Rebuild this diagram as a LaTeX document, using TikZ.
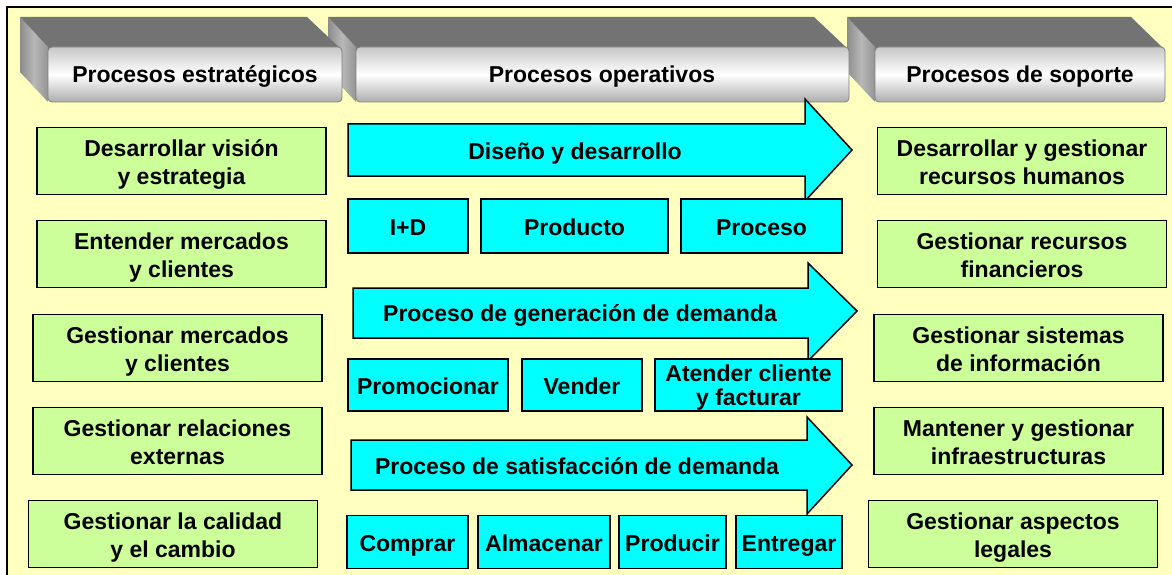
\documentclass[tikz,border=0pt]{standalone}
\usepackage{fontspec}
\setmainfont{Liberation Sans}
\definecolor{bgyellow}{HTML}{FFFFC0}
\definecolor{boxgreen}{HTML}{CCFF99}
\definecolor{opcyan}{HTML}{00FFFF}
\definecolor{bartop}{HTML}{737373}

\begin{document}
\begin{tikzpicture}[x=1pt, y=-1pt,
    txt/.style={font=\fontsize{23}{28}\selectfont\bfseries, align=center, inner sep=0pt,
        execute at begin node={\rule{0pt}{26pt}}, execute at end node={\rule[-8pt]{0pt}{8pt}}},
    greenbox/.style={txt, draw, line width=1.5pt, fill=boxgreen, minimum width=289pt, minimum height=67pt,
        text height=54pt, text depth=8pt},
    cyanbox/.style={txt, draw, line width=1.5pt, fill=opcyan},
    flow/.style={draw, line width=1.5pt, fill=opcyan, line join=miter},
    topface/.style={fill=bartop},
    sideface/.style={left color=black!45, right color=black!42, middle color=black!28},
    frontface/.style={draw=black!50, line width=0.8pt, rounded corners=4pt, top color=black!22, bottom color=black!32, middle color=white}]
    \useasboundingbox (0,0) rectangle (1172,575);

    % Background and frame
    \fill[white] (0,0) rectangle (1172,575);
    \fill[bgyellow] (7,7) rectangle (1172,575);
    \draw[line width=2pt] (7,575) -- (7,7) -- (1172,7);

    % Header bars (back to front)
    \fill[topface] (847,17) -- (1131,17) -- (1165,50) -- (875,50) -- cycle;
    \shade[sideface] (847,17) -- (875,47) -- (875,102) -- (847,72) -- cycle;
    \shadedraw[frontface] (875,47) rectangle (1165,102);

    \fill[topface] (328,17) -- (814,17) -- (849,50) -- (356,50) -- cycle;
    \shade[sideface] (328,17) -- (356,47) -- (356,102) -- (328,72) -- cycle;
    \shadedraw[frontface] (356,47) rectangle (849,102);

    \fill[topface] (20,17) -- (307,17) -- (342,50) -- (48,50) -- cycle;
    \shade[sideface] (20,17) -- (48,47) -- (48,102) -- (20,72) -- cycle;
    \shadedraw[frontface] (48,47) rectangle (342,102);

    % Header labels
    \node[txt] (hstrat) at (195,74) {Procesos estratégicos};
    \node[txt] (hoper) at (602,74) {Procesos operativos};
    \node[txt] (hsup) at (1020,74) {Procesos de soporte};

    % Strategic processes
    \node[greenbox] (s1) at (181.5,161) {Desarrollar visión\\y estrategia};
    \node[greenbox] (s2) at (181.5,254) {Entender mercados\\y clientes};
    \node[greenbox] (s3) at (177.5,348) {Gestionar mercados\\y clientes};
    \node[greenbox] (s4) at (177.5,441) {Gestionar relaciones\\externas};
    \node[greenbox] (s5) at (173,534) {Gestionar la calidad\\y el cambio};

    % Support processes
    \node[greenbox] (p1) at (1022,161) {Desarrollar y gestionar\\recursos humanos};
    \node[greenbox] (p2) at (1022,254) {Gestionar recursos\\financieros};
    \node[greenbox] (p3) at (1018.5,348) {Gestionar sistemas\\de información};
    \node[greenbox] (p4) at (1018.5,441) {Mantener y gestionar\\infraestructuras};
    \node[greenbox] (p5) at (1013,534) {Gestionar aspectos\\legales};

    % Operative flows
    \draw[flow] (348,124) -- (805,124) -- (805,99) -- (852,150) -- (805,201) -- (805,176) -- (348,176) -- cycle;
    \node[txt] (f1) at (575,150) {Diseño y desarrollo};
    \draw[flow] (353,288) -- (808,288) -- (808,263) -- (857,311) -- (808,361) -- (808,338) -- (353,338) -- cycle;
    \node[txt] (f2) at (580,312) {Proceso de generación de demanda};
    \draw[flow] (351,440) -- (807,440) -- (807,417) -- (852,465) -- (807,514) -- (807,490) -- (351,490) -- cycle;
    \node[txt] (f3) at (577,465) {Proceso de satisfacción de demanda};

    % Design steps
    \node[cyanbox, minimum width=120pt, minimum height=54pt] (d1) at (408,226) {I+D};
    \node[cyanbox, minimum width=187pt, minimum height=54pt] (d2) at (574.5,226) {Producto};
    \node[cyanbox, minimum width=161pt, minimum height=54pt] (d3) at (761.5,226) {Proceso};

    % Demand generation steps
    \node[cyanbox, minimum width=160pt, minimum height=52pt] (g1) at (428,385) {Promocionar};
    \node[cyanbox, minimum width=120pt, minimum height=52pt] (g2) at (582,385) {Vender};
    \node[cyanbox, minimum width=187pt, minimum height=52pt, font=\fontsize{23}{24}\selectfont\bfseries,
        text height=46pt, text depth=6pt] (g3) at (748.5,385) {Atender cliente\\y facturar};

    % Demand satisfaction steps
    \node[cyanbox, minimum width=121pt, minimum height=53pt] (c1) at (407.5,542) {Comprar};
    \node[cyanbox, minimum width=132pt, minimum height=53pt] (c2) at (544,542) {Almacenar};
    \node[cyanbox, minimum width=107pt, minimum height=53pt] (c3) at (672.5,542) {Producir};
    \node[cyanbox, minimum width=106pt, minimum height=53pt] (c4) at (789,542) {Entregar};
\end{tikzpicture}
\end{document}
